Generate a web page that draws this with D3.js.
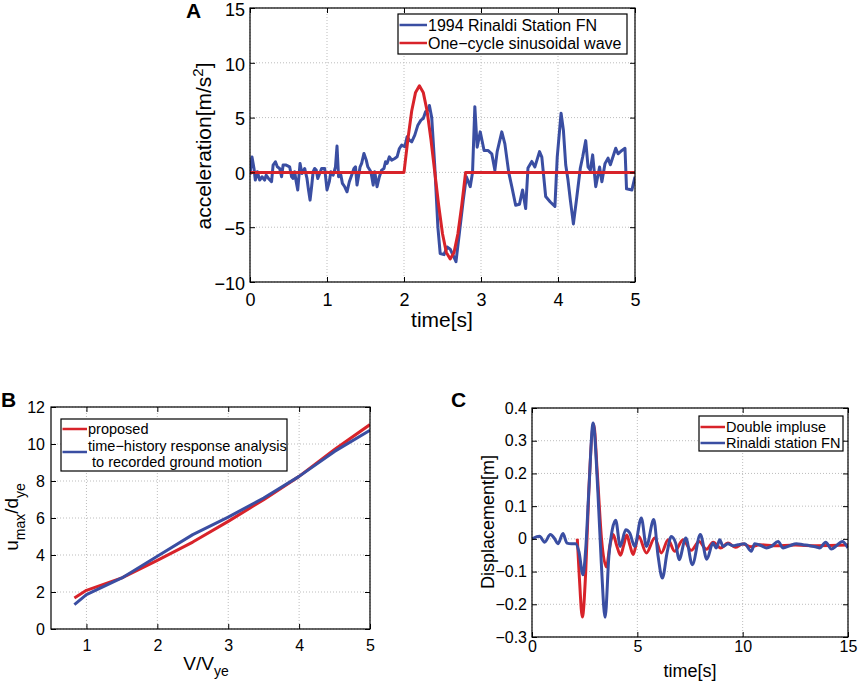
<!DOCTYPE html>
<html>
<head>
<meta charset="utf-8">
<script src="https://cdn.jsdelivr.net/npm/d3@7"></script>
<style>
  body { margin: 0; background: #fff; }
  svg { display: block; font-family: "Liberation Sans", Arial, sans-serif; }
</style>
</head>
<body>
<script>
// ---- panel A: ground acceleration ----
const accTime = [0.00,0.026,0.052,0.069,0.095,0.126,0.156,0.19,0.21,0.24,0.28,0.30,0.33,0.355,0.385,0.41,0.43,0.47,0.515,0.54,0.56,0.58,0.60,0.62,0.65,0.675,0.71,0.74,0.76,0.78,0.80,0.82,0.84,0.86,0.88,0.93,0.97,1.00,1.03,1.05,1.08,1.11,1.13,1.15,1.18,1.20,1.23,1.26,1.29,1.32,1.35,1.37,1.39,1.43,1.45,1.48,1.51,1.53,1.57,1.60,1.62,1.65,1.68,1.71,1.74,1.76,1.78,1.81,1.84,1.88,1.91,1.94,1.97,2.01,2.04,2.07,2.10,2.14,2.18,2.22,2.25,2.28,2.31,2.33,2.36,2.40,2.44,2.47,2.52,2.56,2.60,2.64,2.675,2.72,2.77,2.81,2.86,2.89,2.92,2.95,2.99,3.04,3.09,3.14,3.18,3.21,3.27,3.31,3.36,3.40,3.45,3.50,3.54,3.58,3.61,3.66,3.70,3.76,3.79,3.84,3.90,3.96,3.99,4.04,4.07,4.10,4.13,4.16,4.20,4.24,4.29,4.32,4.36,4.39,4.42,4.45,4.49,4.54,4.57,4.61,4.65,4.68,4.75,4.78,4.83,4.87,4.89,4.96,5.00]
const accRinaldi = [-0.2,1.4,0.36,-0.7,0.06,-0.7,-0.4,-0.7,-0.25,-0.55,-0.85,0.67,0.97,0.51,0.36,-0.4,0.67,0.67,0.51,-0.4,-0.55,0.06,-0.85,-1.6,0.82,-0.1,0.36,-0.55,-1.6,-2.53,-1.31,0.06,0.36,0.21,-0.55,0.36,0.36,-1.6,-0.85,0.06,-0.25,0.51,2.4,-0.4,-0.25,-1.0,-1.31,-1.77,-0.85,-0.25,0.36,0.51,-1.16,0.51,0.82,1.73,1.12,0.51,0.06,-1.16,0.06,-1.31,-0.4,0.21,0.36,0.97,0.82,1.42,1.12,1.27,1.42,2.18,2.49,2.34,3.25,2.94,2.79,3.4,4.31,4.77,4.92,5.53,5.68,6.1,5.0,0.5,-5.0,-7.4,-7.5,-6.8,-7.0,-7.6,-8.15,-5.5,-2.5,-0.4,-1.3,0,6.0,2.3,3.7,2.0,2.0,1.7,0.2,1.9,3.7,2.6,0,-1.3,-3.0,-2.9,-1.6,-3.3,0.4,1.0,0.5,1.9,1.4,-2.2,-2.7,-3.1,1.4,5.4,3.85,0.7,-0.7,-2.5,-4.7,-2.5,0.4,1.4,2.9,0.5,0.2,1.6,-1.3,0.5,-0.85,0.8,1.3,0.7,2.2,1.7,2.0,2.2,-1.5,-1.6,-0.4]
const sineTime = [0,2.0,2.05,2.1,2.15,2.2,2.25,2.3,2.35,2.4,2.45,2.5,2.55,2.6,2.65,2.7,2.75,2.8,5.0]
const sineAcc  = [0,0,3.0,5.6,7.3,7.9,7.3,5.6,3.0,0,-3.0,-5.6,-7.3,-7.9,-7.3,-5.6,-3.0,0,0]
const accXTicks = [0,1,2,3,4,5]
const accYTicks = [-10,-5,0,5,10,15]

// ---- panel B: ductility vs velocity ratio ----
const velRatio = [0.83,1.0,1.5,2.0,2.5,3.0,3.5,4.0,4.5,5.0]
const ductProposed = [1.68,2.09,2.76,3.71,4.7,5.82,6.99,8.25,9.7,11.05]
const ductRecorded = [1.32,1.86,2.76,3.93,5.1,6.05,7.08,8.25,9.6,10.74]
const ductXTicks = [1,2,3,4,5]
const ductYTicks = [0,2,4,6,8,10,12]

// ---- panel C: displacement response ----
const dispTimeDI = [2.15,2.25,2.39,2.55,2.7,2.93,3.1,3.3,3.53,3.7,3.85,4.02,4.2,4.35,4.5,4.65,4.8,5.06,5.43,5.82,6.14,6.46,6.77,7.17,7.56,7.93,8.28,8.6,8.95,9.3,9.65,10.0,10.4,10.8,11.5,12.5,13.5,15]
const dispDI = [0.0,-0.12,-0.239,-0.1,0.15,0.35,0.2,0.0,-0.086,-0.02,0.013,-0.02,-0.05,-0.02,0.012,-0.02,-0.048,0.008,-0.043,0.003,-0.043,-0.003,-0.038,-0.003,-0.035,-0.008,-0.032,-0.01,-0.028,-0.013,-0.026,-0.016,-0.024,-0.018,-0.021,-0.019,-0.021,-0.019]
const dispTimeFN = [0,0.36,0.6,0.87,1.08,1.23,1.47,1.66,1.87,2.07,2.23,2.42,2.55,2.7,2.9,3.13,3.29,3.47,3.65,3.81,3.97,4.19,4.45,4.64,4.87,5.19,5.43,5.78,5.98,6.19,6.41,6.61,6.82,6.98,7.3,7.61,7.99,8.3,8.59,8.75,8.91,9.07,9.3,9.54,9.78,10.09,10.41,10.57,10.89,11.13,11.36,11.68,11.92,12.23,12.55,12.86,13.18,13.5,13.65,13.94,14.21,14.45,14.73,15.0]
const dispFN = [0,0.008,-0.01,0.013,0,-0.015,0.016,-0.013,-0.015,-0.015,-0.04,-0.11,-0.03,0.15,0.354,0.14,-0.074,-0.24,-0.053,0.028,0.057,-0.023,0.028,0.018,-0.023,0.064,-0.023,0.059,-0.05,-0.12,-0.043,0.007,-0.013,-0.064,0.003,-0.079,0.013,-0.062,-0.013,-0.028,-0.003,-0.023,-0.015,-0.021,-0.018,-0.015,-0.038,-0.015,-0.021,-0.028,-0.023,-0.008,-0.028,-0.021,-0.015,-0.018,-0.021,-0.025,-0.028,-0.01,-0.031,-0.021,-0.008,-0.028]
const dispXTicks = [0,5,10,15]
const dispYTicks = [-0.3,-0.2,-0.1,0,0.1,0.2,0.3,0.4]

const BLUE = '#3a4ea2', RED = '#d8232a'
const minus = s => String(s).replace('-', '\u2212')

const svg = d3.select('body').append('svg')
    .attr('width', 858)
    .attr('height', 682)

let clipId = 0

function panel(o) {
    const x = d3.scaleLinear().domain(o.xDomain).range([o.left, o.right]),
        y = d3.scaleLinear().domain(o.yDomain).range([o.bottom, o.top]),
        g = svg.append('g')

    // dotted grid
    g.append('g').selectAll('line').data(o.xTicks).join('line')
        .attr('x1', d => x(d)).attr('x2', d => x(d))
        .attr('y1', o.top).attr('y2', o.bottom)
    g.append('g').selectAll('line').data(o.yTicks).join('line')
        .attr('x1', o.left).attr('x2', o.right)
        .attr('y1', d => y(d)).attr('y2', d => y(d))
    g.selectAll('g line')
        .attr('stroke', '#bdbdbd')
        .attr('stroke-width', 1)
        .attr('stroke-dasharray', '1,2')

    const id = 'clip' + (clipId++)
    svg.append('clipPath').attr('id', id)
        .append('rect')
        .attr('x', o.left).attr('y', o.top)
        .attr('width', o.right - o.left).attr('height', o.bottom - o.top)
    const plot = g.append('g').attr('clip-path', `url(#${id})`)

    const axes = g.append('g')
    const style = a => a.call(s => s.select('.domain').remove())
        .call(s => s.selectAll('line').attr('stroke', '#000'))
        .call(s => s.selectAll('text').attr('fill', '#000').style('font-size', o.tickFont + 'px'))

    axes.append('g').attr('transform', `translate(0,${o.bottom})`)
        .call(d3.axisBottom(x).tickValues(o.xTicks).tickSize(-5).tickPadding(o.xPad).tickFormat(o.xFmt))
        .call(style)
    axes.append('g').attr('transform', `translate(${o.left},0)`)
        .call(d3.axisLeft(y).tickValues(o.yTicks).tickSize(-5).tickPadding(o.yPad).tickFormat(o.yFmt))
        .call(style)
        .call(s => s.selectAll('text').attr('dy', o.yDy || '0.32em'))
    axes.append('g').attr('transform', `translate(0,${o.top})`)
        .call(d3.axisTop(x).tickValues(o.xTicks).tickSize(-5).tickFormat(''))
        .call(style)
    axes.append('g').attr('transform', `translate(${o.right},0)`)
        .call(d3.axisRight(y).tickValues(o.yTicks).tickSize(-5).tickFormat(''))
        .call(style)

    g.append('rect')
        .attr('x', o.left).attr('y', o.top)
        .attr('width', o.right - o.left).attr('height', o.bottom - o.top)
        .attr('fill', 'none').attr('stroke', '#000').attr('stroke-width', 1.2)

    return { x, y, g, plot }
}

function series(p, xs, ys, color, curve) {
    const pts = xs.map((t, i) => [t, ys[i]])
    p.plot.append('path')
        .datum(pts)
        .attr('fill', 'none')
        .attr('stroke', color)
        .attr('stroke-width', 3)
        .attr('stroke-linejoin', 'round')
        .attr('d', d3.line().x(d => p.x(d[0])).y(d => p.y(d[1])).curve(curve || d3.curveLinear))
}

function legend(box, entries, font) {
    const g = svg.append('g')
    g.append('rect')
        .attr('x', box.x).attr('y', box.y).attr('width', box.w).attr('height', box.h)
        .attr('fill', '#fff').attr('stroke', '#000').attr('stroke-width', 1.2)
    entries.forEach(e => {
        g.append('line')
            .attr('x1', box.x + 1.5).attr('x2', box.x + box.line)
            .attr('y1', e.ly).attr('y2', e.ly)
            .attr('stroke', e.color).attr('stroke-width', 2.5)
        e.lines.forEach((t, i) => g.append('text')
            .attr('x', box.x + box.line + 1).attr('y', e.ty + i * 16)
            .attr('font-size', font)
            .attr('xml:space', 'preserve')
            .text(t))
    })
}

function panelLetter(t, x, y) {
    svg.append('text').attr('x', x).attr('y', y)
        .attr('font-size', 21).attr('font-weight', 'bold').text(t)
}

// ----- A -----
const A = panel({
    left: 250, right: 635, top: 8, bottom: 282,
    xDomain: [0, 5], yDomain: [-10, 15],
    xTicks: accXTicks, yTicks: accYTicks,
    xFmt: d => d, yFmt: minus, tickFont: 18, xPad: 11, yPad: 5, yDy: '0.4em'
})
series(A, accTime, accRinaldi, BLUE)
series(A, sineTime, sineAcc, RED)

A.g.append('text')
    .attr('transform', 'translate(211,146) rotate(-90)')
    .attr('text-anchor', 'middle').attr('font-size', 21)
    .call(t => t.append('tspan').text('acceleration[m/s'))
    .call(t => t.append('tspan').attr('dy', -8).attr('font-size', 15).text('2'))
    .call(t => t.append('tspan').attr('dy', 8).text(']'))
A.g.append('text').attr('x', 442).attr('y', 327)
    .attr('text-anchor', 'middle').attr('font-size', 21).text('time[s]')

legend({ x: 398, y: 14, w: 229, h: 40, line: 29 }, [
    { color: BLUE, ly: 25, ty: 31, lines: ['1994 Rinaldi Station FN'] },
    { color: RED, ly: 43, ty: 49, lines: ['One\u2212cycle sinusoidal wave'] }
], 16)
panelLetter('A', 186, 18)

// ----- B -----
const B = panel({
    left: 51, right: 370, top: 407, bottom: 629,
    xDomain: [0.5, 5], yDomain: [0, 12],
    xTicks: ductXTicks, yTicks: ductYTicks,
    xFmt: d => d, yFmt: d => d, tickFont: 16, xPad: 11, yPad: 6
})
series(B, velRatio, ductProposed, RED)
series(B, velRatio, ductRecorded, BLUE)

B.g.append('text')
    .attr('transform', 'translate(18,517) rotate(-90)')
    .attr('text-anchor', 'middle').attr('font-size', 19)
    .call(t => t.append('tspan').text('u'))
    .call(t => t.append('tspan').attr('dy', 7).attr('font-size', 14).text('max'))
    .call(t => t.append('tspan').attr('dy', -7).text('/d'))
    .call(t => t.append('tspan').attr('dy', 7).attr('font-size', 14).text('ye'))
B.g.append('text').attr('x', 206).attr('y', 670)
    .attr('text-anchor', 'middle').attr('font-size', 19)
    .call(t => t.append('tspan').text('V/V'))
    .call(t => t.append('tspan').attr('dy', 6).attr('font-size', 14).text('ye'))

legend({ x: 61, y: 419, w: 226, h: 52, line: 26 }, [
    { color: RED, ly: 429, ty: 434, lines: ['proposed'] },
    { color: BLUE, ly: 452, ty: 451, lines: ['time\u2212history response analysis', ' to recorded ground motion'] }
], 14.5)
panelLetter('B', 1, 407)

// ----- C -----
const C = panel({
    left: 532, right: 848, top: 408, bottom: 637,
    xDomain: [0, 15], yDomain: [-0.3, 0.4],
    xTicks: dispXTicks, yTicks: dispYTicks,
    xFmt: d => d, yFmt: d => d === 0 ? '0' : minus(d3.format('.1f')(d)),
    tickFont: 16, xPad: 4, yPad: 5
})
series(C, dispTimeDI, dispDI, RED, d3.curveMonotoneX)
series(C, dispTimeFN, dispFN, BLUE, d3.curveMonotoneX)

C.g.append('text')
    .attr('transform', 'translate(494,522) rotate(-90)')
    .attr('text-anchor', 'middle').attr('font-size', 18).text('Displacement[m]')
C.g.append('text').attr('x', 690).attr('y', 677)
    .attr('text-anchor', 'middle').attr('font-size', 18).text('time[s]')

legend({ x: 699, y: 416, w: 144, h: 35, line: 26 }, [
    { color: RED, ly: 427, ty: 432, lines: ['Double impluse'] },
    { color: BLUE, ly: 443, ty: 448, lines: ['Rinaldi station FN'] }
], 14.5)
panelLetter('C', 451, 407)
</script>
</body>
</html>
